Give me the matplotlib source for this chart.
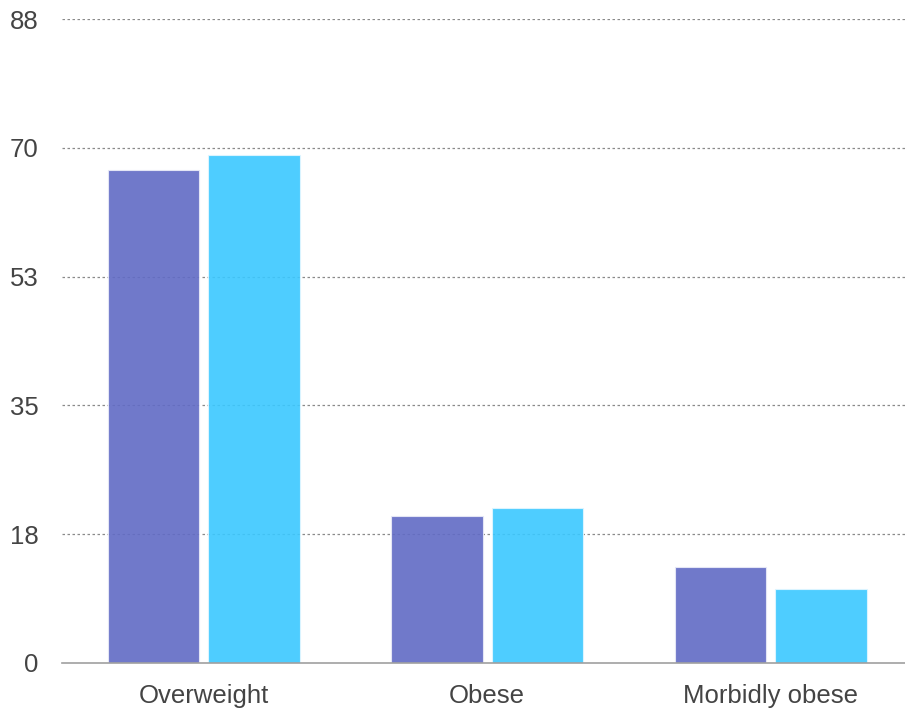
import matplotlib
matplotlib.use("Agg")
import matplotlib.pyplot as plt
import numpy as np

categories = ["Overweight", "Obese", "Morbidly obese"]
series_a = [67, 20, 13]
series_b = [69, 21, 10]
yticks = [0, 17.5, 35, 52.5, 70, 87.5]
ytick_labels = ["0", "18", "35", "53", "70", "88"]

plt.rcParams['font.family'] = ['Liberation Sans', 'DejaVu Sans']

W, H = 905, 711
fig = plt.figure(figsize=(W / 100, H / 100), dpi=100)
ax = fig.add_axes([62 / W, 48 / H, 850.5 / W, 644 / H])

x = np.arange(len(categories))
bw = 0.3228
off = 0.1772
ax.bar(x - off, series_a, width=bw, color="#616BC5", alpha=0.9,
       edgecolor="#e8eaf8", linewidth=0.8, zorder=3)
ax.bar(x + off, series_b, width=bw, color="#3BC8FF", alpha=0.9,
       edgecolor="#e0f6ff", linewidth=0.8, zorder=3)

ax.set_xlim(-0.5, 2.5)
ax.set_ylim(0, 87.5)
ax.set_yticks(yticks)
ax.set_yticklabels(ytick_labels)
ax.set_xticks(x)
ax.set_xticklabels(categories)

for y in yticks[1:]:
    ax.axhline(y, color="#8a8a8a", linewidth=0.9, linestyle=(0, (2, 2)), zorder=2)

for s in ["top", "right", "left"]:
    ax.spines[s].set_visible(False)
ax.spines["bottom"].set_color("#a0a0a0")
ax.spines["bottom"].set_linewidth(1.2)
ax.spines["bottom"].set_zorder(5)

ax.tick_params(axis="y", length=0, pad=17, labelsize=18.5, labelcolor="#444444")
ax.tick_params(axis="x", length=0, pad=15, labelsize=18.5, labelcolor="#444444")

fig.savefig("out.png", dpi=100)
